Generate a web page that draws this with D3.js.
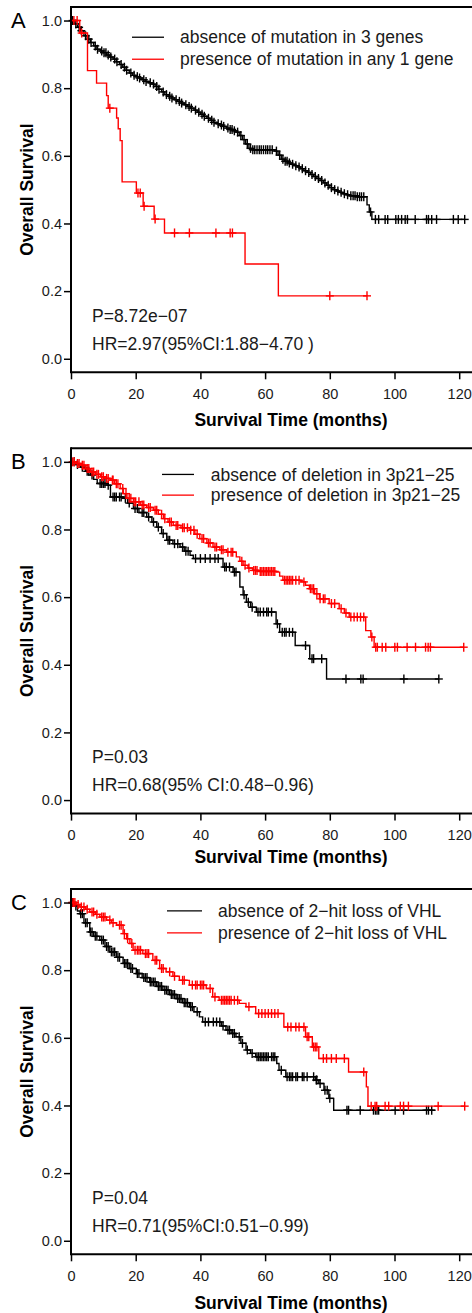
<!DOCTYPE html>
<html><head><meta charset="utf-8">
<script src="https://cdn.jsdelivr.net/npm/d3@7"></script>
<style>
html,body{margin:0;padding:0;background:#fff;}
svg{display:block;font-family:"Liberation Sans",Arial,sans-serif;}
</style></head><body>
<svg id="chart" width="472" height="1313"></svg>
<script>
// ---------- data ----------
const xTicks = [0, 20, 40, 60, 80, 100, 120];
const yTicks = [0.0, 0.2, 0.4, 0.6, 0.8, 1.0];
const panelLetters = ["A", "B", "C"];
const legendA = ["absence of mutation in 3 genes", "presence of mutation in any 1 gene"];
const legendB = ["absence of deletion in 3p21\u221225", "presence of deletion in 3p21\u221225"];
const legendC = ["absence of 2\u2212hit loss of VHL", "presence of 2\u2212hit loss of VHL"];
const statsP = ["P=8.72e\u221207", "P=0.03", "P=0.04"];
const statsHR = ["HR=2.97(95%CI:1.88\u22124.70 )", "HR=0.68(95% CI:0.48\u22120.96)", "HR=0.71(95%CI:0.51\u22120.99)"];
const seriesColors = ["#000000", "#ff0000"];
const xTitle = "Survival Time (months)";
const yTitle = "Overall Survival";

// Panel A, absence (black): [time, survival after event]
const stepsA0 = [[0,1],[1,0.99],[2,0.98],[3,0.97],[4,0.955],[5,0.945],[6,0.935],[7,0.925],[8,0.915],[9,0.91],[10,0.905],[11,0.898],[12,0.892],[13,0.886],[14,0.878],[15,0.87],[16,0.862],[17,0.853],[18,0.845],[19,0.838],[20,0.834],[21,0.83],[22,0.825],[23,0.82],[24,0.816],[25,0.812],[26,0.805],[27,0.797],[28,0.789],[29,0.781],[30,0.776],[31,0.771],[32,0.766],[33,0.761],[34,0.756],[35,0.751],[36,0.746],[37,0.741],[38,0.735],[39,0.729],[40,0.723],[41,0.717],[42,0.711],[43,0.705],[44,0.699],[45,0.695],[46,0.691],[47,0.687],[48,0.682],[49,0.678],[50,0.674],[51,0.67],[52,0.66],[53,0.648],[54,0.635],[55,0.622],[56,0.618],[63,0.614],[64,0.602],[65,0.59],[66,0.584],[67,0.579],[68,0.575],[69,0.571],[70,0.567],[71,0.562],[72,0.556],[73,0.551],[74,0.545],[75,0.539],[76,0.533],[77,0.527],[78,0.52],[79,0.513],[80,0.506],[81,0.5],[82,0.496],[83,0.492],[84,0.488],[85,0.485],[86,0.482],[88,0.479],[91.5,0.455],[92.2,0.434],[93,0.412]];
const censorA0 = [0.5,1.5,2.5,3.2,4.5,5.5,6.2,7.5,8.2,9.5,10.2,10.8,11.5,12.3,13.5,14.2,15.5,16.5,17.2,18.5,19.5,20.5,21.2,22.5,23.2,24.5,25.5,26.5,27.2,28.5,29.5,30.5,31.2,32.5,33.5,34.2,35.5,36.5,37.2,38.5,39.5,40.5,41.2,42.5,43.5,44.2,45.5,46.5,47.2,48.5,49.2,49.8,50.5,51.5,52.5,53.5,54.5,55.5,56.2,56.8,57.5,58.2,58.8,59.5,60.2,60.8,61.5,62.2,63.5,64.5,65.5,66.2,66.8,67.5,68.5,69.5,70.5,71.5,72.5,73.5,74.5,75.5,76.5,77.5,78.5,79.5,80.5,81.5,82.5,83.5,84.5,85.5,86.5,87.2,87.8,88.5,89.2,89.8,90.5,92.6,94.1,95.1,97.1,97.9,100.4,101.2,102.2,103.3,104.0,106.4,109.9,110.5,111.5,113.0,118.2,119.7,121.7];
const endA0 = 121.7;
// Panel A, presence (red)
const stepsA1 = [[0,1],[2.7,0.963],[5.1,0.852],[7.9,0.815],[11.0,0.778],[11.5,0.741],[14.1,0.712],[14.6,0.68],[15.2,0.645],[15.8,0.523],[20.2,0.49],[22.3,0.451],[25.7,0.413],[28.9,0.372],[53.8,0.28],[64.1,0.186]];
const censorA1 = [0.9,1.9,3.3,12.0,20.7,21.4,22.6,26.0,32.0,36.6,44.8,49.2,49.9,80.0,91.5];
const endA1 = 91.5;

// Panel B, absence (black)
const stepsB0 = [[0,1],[1.5,0.992],[2.9,0.984],[4.5,0.972],[6,0.961],[7,0.948],[8.1,0.936],[11.1,0.931],[12.2,0.896],[16.2,0.892],[17.5,0.878],[19.3,0.862],[21,0.85],[23.4,0.837],[25,0.822],[26.5,0.807],[28,0.788],[29.6,0.768],[31.5,0.758],[33.7,0.748],[35,0.736],[36.8,0.724],[37.8,0.714],[47,0.689],[50.1,0.674],[52.2,0.63],[53.2,0.607],[54.2,0.585],[55.5,0.57],[57.3,0.556],[63.4,0.521],[64.5,0.496],[69.3,0.457],[73.8,0.418],[79,0.358]];
const censorB0 = [1,2,3.5,5,5.5,6.5,9,9.5,10,10.5,11.5,13,13.5,14,15,15.5,16.8,18,19.8,20.5,22,22.5,24,25.5,27,28.5,30,30.5,32,33,34.5,35.5,36.2,38.5,40,41.5,43,44.5,45.5,47.5,48,49,50.5,51,53.5,54.8,56,57.8,58.5,59.5,60.5,61,62,63.8,65.3,66,66.5,67.5,68.5,72.5,74.5,75,77.5,85,89.6,90.3,102.9,113.7];
const endB0 = 113.7;
// Panel B, presence (red)
const stepsB1 = [[0,1],[1.5,0.995],[3,0.99],[4.5,0.98],[6,0.97],[7.5,0.963],[9.1,0.956],[10.5,0.951],[12.2,0.946],[13.5,0.935],[15.2,0.921],[16.2,0.906],[17.3,0.892],[19.3,0.882],[21.4,0.872],[23.4,0.865],[25.5,0.857],[27,0.845],[28.6,0.832],[30,0.822],[31.6,0.812],[34,0.805],[36.8,0.798],[38.3,0.786],[39.8,0.773],[42,0.76],[43.9,0.748],[46,0.74],[48.1,0.733],[51.1,0.719],[52.2,0.706],[53.2,0.694],[54.7,0.686],[56.2,0.679],[58,0.676],[63.4,0.674],[64.5,0.662],[65.5,0.65],[71.1,0.645],[72.5,0.635],[73.7,0.625],[75.3,0.61],[76.8,0.595],[79.8,0.581],[82.9,0.566],[84.5,0.553],[86,0.541],[91.1,0.501],[92.7,0.482],[93.7,0.452]];
const censorB1 = [0.5,1,2,2.5,3.5,4,5,5.5,6.5,7,8,8.5,9.5,10,11,11.5,12.8,13,14,14.5,16,17,18,18.5,19.5,20,21,22,22.5,24,24.5,26,26.5,28,29,30.5,31,32.5,33,34.5,35,36,37,38,39,40.5,41,42.5,43,44.5,45,46.5,47,48.5,49.5,50,52.8,53.8,55,56.5,57,57.5,58.5,59,59.5,60,60.5,61,61.5,62,62.5,63,66,66.5,67,67.5,68,68.5,69.5,70.5,72,74,74.5,75,76,77,78,78.5,80.5,81.5,83.5,85,86.5,87.5,88.5,89.5,90.5,93,94.2,94.7,96.2,97.3,100.1,100.9,103.9,106.5,109.6,110.4,111.1,121.4];
const endB1 = 121.4;

// Panel C, absence (black)
const stepsC0 = [[0,1],[1,0.99],[2,0.975],[2.8,0.967],[4,0.94],[5.8,0.913],[7,0.9],[8.9,0.889],[10.5,0.87],[12,0.854],[14,0.838],[16.1,0.82],[18,0.805],[20.2,0.79],[22,0.778],[24.3,0.765],[26.5,0.752],[28.4,0.741],[30.5,0.728],[32.5,0.716],[34.5,0.704],[36.6,0.692],[38,0.677],[39.7,0.662],[40.7,0.647],[46.5,0.635],[47.9,0.623],[49.5,0.613],[51,0.603],[52.5,0.584],[54.1,0.564],[55.5,0.554],[57.1,0.544],[63.6,0.524],[64.3,0.504],[66.4,0.485],[75.5,0.475],[76.6,0.465],[78.2,0.445],[79.7,0.421],[81.2,0.386]];
const censorC0 = [0.5,1.5,3,3.5,4.5,5,6,6.5,7.5,8,9.5,10,11,11.5,12.5,13,13.5,14.5,15,16.5,17,17.5,18.5,19,20.5,21,22.5,23,23.5,24.5,25,25.5,26,27,27.5,28,29,29.5,30,31,31.5,32,33,33.5,34,35,35.5,36,37,37.5,39,41.5,42.5,44,45,46,47,48.5,49,50,50.5,52,53,54.5,56,57.5,58,58.5,59,59.5,60,60.5,61,62,62.5,63,65,66.8,67.5,68,68.5,69.5,70,71.5,72,73,75,75.8,76,77,78.5,79.2,80,85.3,85.8,89.4,93.5,94.1,94.6,95.1,100.2,102.8,109.9,110.5,111.5];
const endC0 = 112.5;
// Panel C, presence (red)
const stepsC1 = [[0,1],[1.5,0.994],[2.8,0.987],[4.5,0.98],[5.8,0.972],[7.5,0.965],[8.9,0.957],[11,0.948],[12.5,0.94],[14.1,0.933],[16.1,0.908],[17.2,0.893],[18.2,0.879],[19.2,0.859],[22.2,0.849],[25.3,0.829],[27.4,0.805],[29.4,0.795],[31.5,0.782],[33.5,0.77],[36.6,0.756],[41.8,0.746],[43.8,0.721],[45.8,0.711],[52,0.702],[54.1,0.692],[57.1,0.672],[65.8,0.632],[72.5,0.603],[74.6,0.573],[76.6,0.539],[85.8,0.499],[91.3,0.455],[91.8,0.398]];
const censorC1 = [0.3,0.8,1.2,2.2,3.2,4,5,6.5,7,8,9.5,10,10.5,12,13,15,15.5,16.5,17.5,18.8,19.8,20.5,21,21.5,23,23.5,24,26,26.5,28,28.5,30.5,32,34.5,35,37.5,38.5,39,40,40.5,41,43,44.5,46.5,47,47.5,48,48.5,49,49.5,50.5,51.5,55,58,59,60,61,62,63,64,67,68,69.5,70.5,72,73,73.5,75,75.5,76,78,79,80.5,82,84.5,90.5,92.8,94,94.5,97.1,98.2,101.8,102.8,104.3,113.5,121.7];
const endC1 = 121.7;

// ---------- layout ----------
const svg = d3.select("#chart");
const panelLayout = [
  {top: 7,     steps: [stepsA0, stepsA1], censor: [censorA0, censorA1], ends: [endA0, endA1], legend: legendA,
   legLine: [132, 164], legText: 180, legRows: [16.7, 38.7], titleOff: 53.7},
  {top: 448.3, steps: [stepsB0, stepsB1], censor: [censorB0, censorB1], ends: [endB0, endB1], legend: legendB,
   legLine: [162, 194], legText: 210.7, legRows: [12.6, 33.3], titleOff: 49},
  {top: 889,   steps: [stepsC0, stepsC1], censor: [censorC0, censorC1], ends: [endC0, endC1], legend: legendC,
   legLine: [167, 202], legText: 218, legRows: [8.4, 30.4], titleOff: 54.3}
];
const plotH = 365.3;
const x = d3.scaleLinear().domain([0, 125]).range([71, 71 + 3.235 * 125]);

function survAt(steps, t) {
  let s = steps[0][1];
  for (const [ts, v] of steps) { if (ts <= t) s = v; else break; }
  return s;
}

panelLayout.forEach((p, i) => {
  const g = svg.append("g");
  const y = d3.scaleLinear().domain([-0.04, 1.04]).range([p.top + plotH, p.top]);
  const axisY = p.top + plotH;

  // curves
  p.steps.forEach((steps, k) => {
    const pts = steps.concat([[p.ends[k], steps[steps.length - 1][1]]]);
    const line = d3.line().x(d => x(d[0])).y(d => y(d[1])).curve(d3.curveStepAfter);
    g.append("path").attr("d", line(pts)).attr("fill", "none")
      .attr("stroke", seriesColors[k]).attr("stroke-width", 1.4);
    const cg = g.append("g").attr("stroke", seriesColors[k]).attr("stroke-width", 1.4);
    p.censor[k].forEach(t => {
      const cx = x(t), cy = y(survAt(steps, t));
      cg.append("line").attr("x1", cx).attr("x2", cx).attr("y1", cy - 4.5).attr("y2", cy + 4.5);
      cg.append("line").attr("x1", cx - 4).attr("x2", cx + 4).attr("y1", cy).attr("y2", cy);
    });
  });

  // frame
  g.append("line").attr("x1", x(0)).attr("x2", 472).attr("y1", p.top).attr("y2", p.top)
    .attr("stroke", "#000").attr("stroke-width", 2);
  g.append("line").attr("x1", x(0)).attr("x2", 472).attr("y1", axisY).attr("y2", axisY)
    .attr("stroke", "#000").attr("stroke-width", 2);
  g.append("line").attr("x1", x(0)).attr("x2", x(0)).attr("y1", p.top - 1).attr("y2", axisY + 1)
    .attr("stroke", "#000").attr("stroke-width", 2);

  // axes
  const ya = g.append("g").attr("transform", `translate(${x(0)},0)`)
    .call(d3.axisLeft(y).tickValues(yTicks).tickFormat(d3.format(".1f")).tickSize(7).tickPadding(2));
  const xa = g.append("g").attr("transform", `translate(0,${axisY})`)
    .call(d3.axisBottom(x).tickValues(xTicks).tickSize(7).tickPadding(9));
  [ya, xa].forEach(a => {
    a.select(".domain").remove();
    a.selectAll(".tick line").attr("stroke", "#000").attr("stroke-width", 1.5);
    a.selectAll(".tick text").attr("fill", "#1a1a1a").style("font-size", "14.5px")
      .style("font-family", "'Liberation Sans',Arial,sans-serif");
  });

  // titles
  g.append("text").attr("x", 291).attr("y", axisY + p.titleOff).attr("text-anchor", "middle")
    .style("font-size", "17.5px").style("font-weight", "bold").text(xTitle);
  const yMid = (y(0) + y(1)) / 2;
  g.append("text").attr("transform", `translate(33,${yMid}) rotate(-90)`).attr("text-anchor", "middle")
    .style("font-size", "17.5px").style("font-weight", "bold").text(yTitle);

  // panel letter
  g.append("text").attr("x", 11).attr("y", y(1) + 7.5).style("font-size", "22px").text(panelLetters[i]);

  // legend
  p.legend.forEach((lab, k) => {
    const ly = y(1) + p.legRows[k];
    g.append("line").attr("x1", p.legLine[0]).attr("x2", p.legLine[1]).attr("y1", ly).attr("y2", ly)
      .attr("stroke", seriesColors[k]).attr("stroke-width", 1.3);
    g.append("text").attr("x", p.legText).attr("y", ly).attr("dy", "0.35em")
      .style("font-size", "17.5px").attr("fill", "#1a1a1a").text(lab);
  });

  // stats
  g.append("text").attr("x", 92).attr("y", y(0) - 37).style("font-size", "17.5px").attr("fill", "#1a1a1a").text(statsP[i]);
  g.append("text").attr("x", 92).attr("y", y(0) - 9).style("font-size", "17.5px").attr("fill", "#1a1a1a").text(statsHR[i]);
});
</script>
</body></html>
